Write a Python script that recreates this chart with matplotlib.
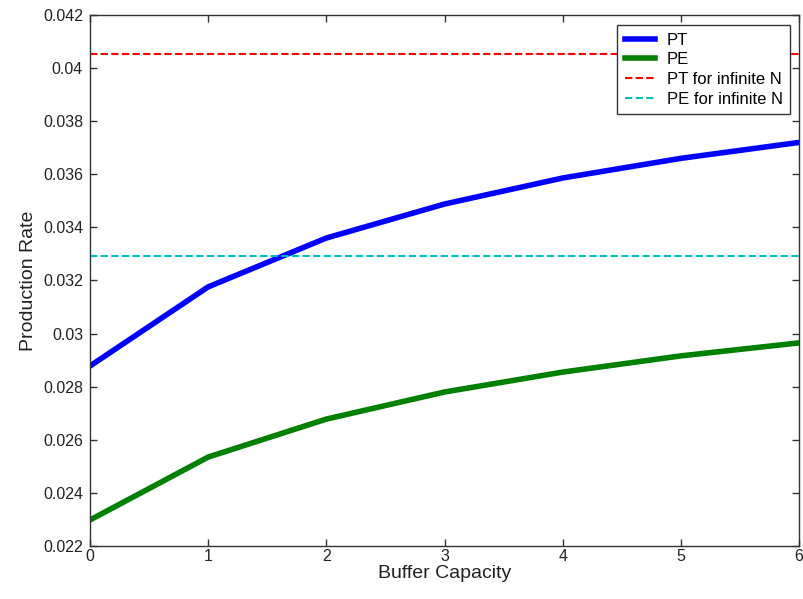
import matplotlib
matplotlib.use("Agg")
import matplotlib.pyplot as plt

plt.rcParams['font.family'] = ['Liberation Sans', 'DejaVu Sans']

# buffer capacity and production rates
buffer_cap = [0, 1, 2, 3, 4, 5, 6]
pt_rate = [0.02878, 0.03176, 0.03360, 0.03488, 0.03586, 0.03660, 0.03720]
pe_rate = [0.02298, 0.02535, 0.02678, 0.02780, 0.02855, 0.02916, 0.02965]
pt_inf = 0.04053
pe_inf = 0.03292

fig = plt.figure(figsize=(8.04, 5.99), dpi=100)
ax = fig.add_axes([0.112, 0.0885, 0.8818, 0.8865])

ax.plot(buffer_cap, pt_rate, color=(0, 0, 1), lw=4, label='PT')
ax.plot(buffer_cap, pe_rate, color=(0, 0.5, 0), lw=4, label='PE')
ax.axhline(pt_inf, color='red', ls=(0, (3.5, 1.6)), lw=1.5, label='PT for infinite N')
ax.axhline(pe_inf, color=(0, 0.75, 0.75), ls=(0, (3.5, 1.6)), lw=1.5, label='PE for infinite N')

ax.set_xlim(0, 6)
ax.set_ylim(0.022, 0.042)
ax.set_yticks([0.022 + 0.002 * i for i in range(11)])
ax.set_yticklabels(['0.022', '0.024', '0.026', '0.028', '0.03', '0.032',
                    '0.034', '0.036', '0.038', '0.04', '0.042'])
ax.tick_params(direction='in', top=True, right=True, labelsize=11.5,
               length=5, width=1, color='#333333', labelcolor='#222222')
ax.tick_params(axis='x', pad=2)
ax.tick_params(axis='y', pad=5)
for s in ax.spines.values():
    s.set_color('#333333')
    s.set_linewidth(1)

ax.set_xlabel('Buffer Capacity', fontsize=14, color='#222222', labelpad=1)
ax.set_ylabel('Production Rate', fontsize=14, color='#222222', labelpad=4)

leg = ax.legend(loc='upper right', bbox_to_anchor=(0.9875, 0.981), fontsize=12,
                fancybox=False, edgecolor='#333333', framealpha=1,
                handlelength=1.8, borderpad=0.45, labelspacing=0.28,
                handletextpad=0.7, borderaxespad=0)
leg.get_frame().set_linewidth(1)

fig.savefig('out.png', dpi=100)
